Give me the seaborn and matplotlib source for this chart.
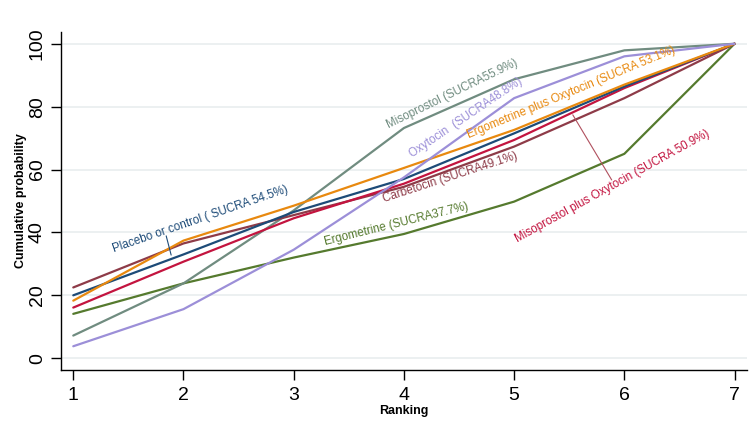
import matplotlib
matplotlib.use("Agg")
import matplotlib.pyplot as plt
import seaborn as sns
import pandas as pd

ranks = [1, 2, 3, 4, 5, 6, 7]

misoprostol = [7.2, 23.8, 47.0, 73.2, 88.7, 97.9, 100]
oxytocin = [3.8, 15.6, 34.5, 57.5, 82.7, 96.0, 100]
ergo_oxy = [18.3, 37.4, 48.5, 60.5, 72.6, 87.0, 100]
placebo = [20.0, 33.0, 46.5, 57.0, 71.5, 86.4, 100]
miso_oxy = [16.1, 30.7, 44.5, 55.5, 69.4, 85.9, 100]
carbetocin = [22.5, 36.5, 45.5, 54.5, 67.3, 82.7, 100]
ergometrine = [14.1, 23.8, 32.0, 39.5, 49.8, 65.0, 100]

names = ["Ergometrine", "Misoprostol", "Carbetocin", "Misoprostol plus Oxytocin",
         "Placebo or control", "Ergometrine plus Oxytocin", "Oxytocin"]
series = [ergometrine, misoprostol, carbetocin, miso_oxy, placebo, ergo_oxy, oxytocin]
colors = ["#557A2E", "#708C80", "#8E3B48", "#C3143F", "#1D4B78", "#E8890F", "#9C8FD8"]

labels = ["Ergometrine (SUCRA37.7%)", "Misoprostol (SUCRA55.9%)", "Carbetocin (SUCRA49.1%)",
          "Misoprostol plus Oxytocin (SUCRA 50.9%)", "Placebo or control ( SUCRA 54.5%)",
          "Ergometrine plus Oxytocin (SUCRA 53.1%)", "Oxytocin  (SUCRA48.8%)"]
# label centre (rank, prob) and angle
label_x = [3.93, 4.44, 4.42, 5.89, 2.15, 5.52, 4.56]
label_y = [42.7, 84.1, 57.3, 54.8, 44.3, 84.4, 76.4]
label_rot = [14, 26, 18, 29, 19, 22.5, 34]

rows = []
for name, vals in zip(names, series):
    for r, v in zip(ranks, vals):
        rows.append({"Ranking": r, "prob": v, "treatment": name})
df = pd.DataFrame(rows)

sns.set_style("white")
plt.rcParams["font.family"] = ["Liberation Sans", "DejaVu Sans"]
plt.rcParams["text.color"] = "black"
plt.rcParams["axes.labelcolor"] = "black"
plt.rcParams["xtick.color"] = "black"
plt.rcParams["ytick.color"] = "black"

fig = plt.figure(figsize=(7.55, 4.24), dpi=100)
ax = fig.add_axes([0.081, 0.127, 0.908, 0.798])

for y in range(0, 101, 20):
    ax.axhline(y, color="#EAEFF0", lw=1.3, zorder=0)

sns.lineplot(data=df, x="Ranking", y="prob", hue="treatment", hue_order=names,
             palette=dict(zip(names, colors)), lw=1.6, legend=False, ax=ax)

for lab, x, y, rot, c in zip(labels, label_x, label_y, label_rot, colors):
    ax.text(x, y, lab, rotation=rot, rotation_mode="anchor", ha="center", va="center",
            fontsize=8.4, color=c)

# leader lines
ax.plot([1.843, 1.888], [38.9, 32.8], color="#1D4B78", lw=0.8)
ax.plot([5.532, 5.885], [77.4, 56.7], color="#B0505E", lw=0.8)

ax.set_xlim(0.89, 7.11)
ax.set_ylim(-3.8, 103.8)
ax.set_xticks(ranks)
ax.set_yticks(range(0, 101, 20))
ax.tick_params(axis="x", labelsize=14, length=7, width=1, direction="out", pad=5, bottom=True)
ax.tick_params(axis="y", labelsize=14, length=7, width=1, direction="out", pad=4, left=True)
for t in ax.get_yticklabels():
    t.set_rotation(90)
    t.set_va("center")
ax.set_xlabel("Ranking", fontsize=9, fontweight="bold", labelpad=1)
ax.set_ylabel("Cumulative probability", fontsize=9, fontweight="bold", labelpad=1)
for s in ["top", "right"]:
    ax.spines[s].set_visible(False)
for s in ["left", "bottom"]:
    ax.spines[s].set_color("black")
    ax.spines[s].set_linewidth(1)

fig.savefig("out.png", dpi=100)
